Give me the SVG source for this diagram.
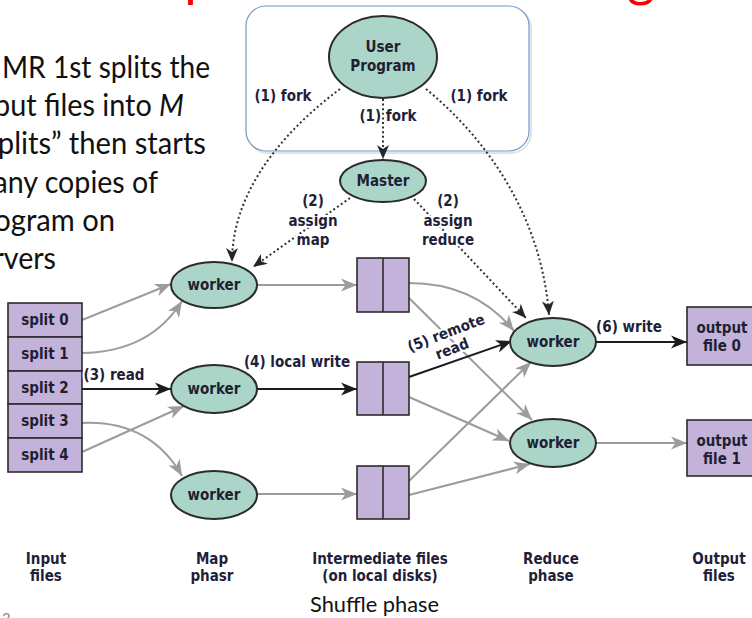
<svg xmlns="http://www.w3.org/2000/svg" width="752" height="618" viewBox="0 0 752 618">
  <style>
    .node { fill: #abd5c8; stroke: #2b2b2b; stroke-width: 2; }
    .file { fill: #c3b2d9; stroke: #2b2b2b; stroke-width: 1.6; }
    .nt { font-family: "DejaVu Sans Condensed", "DejaVu Sans", sans-serif; font-stretch: condensed; font-weight: bold; font-size: 15px; fill: #1f1f33; text-anchor: middle; }
    .lbl { font-family: "DejaVu Sans Condensed", "DejaVu Sans", sans-serif; font-stretch: condensed; font-weight: bold; font-size: 15px; fill: #1f1f3a; text-anchor: middle; stroke: #ffffff; stroke-width: 4; stroke-linejoin: round; paint-order: stroke; }
    .phase { font-family: "DejaVu Sans Condensed", "DejaVu Sans", sans-serif; font-stretch: condensed; font-weight: bold; font-size: 15px; fill: #1f1f3a; text-anchor: middle; }
    .body { font-family: Lato, "Open Sans", sans-serif; font-size: 30px; fill: #111111; }
    .dot { fill: none; stroke: #333333; stroke-width: 2; stroke-dasharray: 2 2.6; }
    .gray { fill: none; stroke: #9c9c9c; stroke-width: 2; }
    .blk { fill: none; stroke: #1c1c1c; stroke-width: 2; }
  </style>
  <defs>
    <marker id="ahBlack" markerUnits="userSpaceOnUse" markerWidth="17" markerHeight="14" refX="16" refY="7" orient="auto">
      <path d="M0,0.5 L16,7 L0,13.5 L4.5,7 Z" fill="#1c1c1c"/>
    </marker>
    <marker id="ahGray" markerUnits="userSpaceOnUse" markerWidth="17" markerHeight="14" refX="16" refY="7" orient="auto">
      <path d="M0,0.5 L16,7 L0,13.5 L4.5,7 Z" fill="#9c9c9c"/>
    </marker>
    <marker id="ahDot" markerUnits="userSpaceOnUse" markerWidth="15" markerHeight="13" refX="14" refY="6.5" orient="auto">
      <path d="M0,0.5 L14,6.5 L0,12.5 L4,6.5 Z" fill="#262626"/>
    </marker>
    <!-- the slide title sits above the frame; only a thin strip reaches into it -->
    <clipPath id="titleStrip">
      <rect x="0" y="0" width="752" height="9"/>
    </clipPath>
  </defs>

  <rect width="752" height="618" fill="#ffffff"/>

  <!-- slide title, only its descenders fall inside the frame -->
  <g id="title" clip-path="url(#titleStrip)">
    <text x="108" y="-4" textLength="547" lengthAdjust="spacingAndGlyphs" font-family="Lato, 'Open Sans', sans-serif" font-size="54" fill="#ff0000">MapReduce Processing</text>
  </g>

  <!-- explanatory paragraph on the left, running off the slide edge -->
  <g id="intro-text" class="body">
    <text x="2" y="78" textLength="208" lengthAdjust="spacingAndGlyphs">MR 1st splits the</text>
    <text x="184" y="116" text-anchor="end" textLength="213" lengthAdjust="spacingAndGlyphs">input files into <tspan font-style="italic">M</tspan></text>
    <text x="206" y="154" text-anchor="end" textLength="231" lengthAdjust="spacingAndGlyphs">“splits” then starts</text>
    <text x="158" y="193" text-anchor="end" textLength="188" lengthAdjust="spacingAndGlyphs">many copies of</text>
    <text x="115" y="231" text-anchor="end" textLength="147" lengthAdjust="spacingAndGlyphs">program on</text>
    <text x="56" y="269" text-anchor="end" textLength="90" lengthAdjust="spacingAndGlyphs">servers</text>
  </g>

  <!-- client machine frame -->
  <g id="client-box">
    <rect x="248" y="8" width="283" height="145" rx="20" fill="none" stroke="#e2e2e2" stroke-width="2"/>
    <rect x="246" y="6" width="283" height="145" rx="20" fill="#ffffff" stroke="#6b97cd" stroke-width="1.2"/>
  </g>

  <!-- connectors -->
  <g id="connectors">
    <!-- (1) fork -->
    <path class="dot" d="M340,89 C285,130 232,190 232,262" marker-end="url(#ahDot)"/>
    <path class="dot" d="M383,99 L383,159" marker-end="url(#ahDot)"/>
    <path class="dot" d="M426,89 C470,125 540,200 549,315" marker-end="url(#ahDot)"/>
    <!-- (2) assign -->
    <path class="dot" d="M350,198 L253,267" marker-end="url(#ahDot)"/>
    <path class="dot" d="M414,199 L526,318" marker-end="url(#ahDot)"/>
    <!-- input splits to map workers -->
    <path class="gray" d="M82,320 L171,284" marker-end="url(#ahGray)"/>
    <path class="gray" d="M82,353 Q150,352 182,301" marker-end="url(#ahGray)"/>
    <path class="blk" d="M80,389 L171,389" marker-end="url(#ahBlack)"/>
    <path class="gray" d="M82,423 Q150,420 182,476" marker-end="url(#ahGray)"/>
    <path class="gray" d="M82,452 L184,406" marker-end="url(#ahGray)"/>
    <!-- map workers to intermediate files -->
    <path class="gray" d="M257,285 L357,285" marker-end="url(#ahGray)"/>
    <path class="blk" d="M257,389 L357,389" marker-end="url(#ahBlack)"/>
    <path class="gray" d="M257,494 L357,494" marker-end="url(#ahGray)"/>
    <!-- intermediate files to reduce workers -->
    <path class="gray" d="M409,283 Q475,283 514,331" marker-end="url(#ahGray)"/>
    <path class="gray" d="M409,298 L532,420" marker-end="url(#ahGray)"/>
    <path class="blk" d="M409,377 L512,341" marker-end="url(#ahBlack)"/>
    <path class="gray" d="M409,397 L509,441" marker-end="url(#ahGray)"/>
    <path class="gray" d="M409,481 L531,362" marker-end="url(#ahGray)"/>
    <path class="gray" d="M409,495 L530,464" marker-end="url(#ahGray)"/>
    <!-- reduce workers to output files -->
    <path class="blk" d="M596,342 L687,342" marker-end="url(#ahBlack)"/>
    <path class="gray" d="M596,443 L687,443" marker-end="url(#ahGray)"/>
  </g>

  <!-- nodes -->
  <g id="user-program">
    <ellipse class="node" cx="383" cy="57" rx="54" ry="41"/>
    <text class="nt" x="383" y="52">User</text>
    <text class="nt" x="383" y="71">Program</text>
  </g>
  <g id="master">
    <ellipse class="node" cx="383" cy="181" rx="43" ry="21"/>
    <text class="nt" x="383" y="186">Master</text>
  </g>

  <g id="input-splits">
    <rect class="file" x="8" y="303" width="74" height="34"/>
    <rect class="file" x="8" y="337" width="74" height="34"/>
    <rect class="file" x="8" y="371" width="74" height="33"/>
    <rect class="file" x="8" y="404" width="74" height="34"/>
    <rect class="file" x="8" y="438" width="74" height="34"/>
    <text class="nt" x="45" y="325">split 0</text>
    <text class="nt" x="45" y="359">split 1</text>
    <text class="nt" x="45" y="393">split 2</text>
    <text class="nt" x="45" y="426">split 3</text>
    <text class="nt" x="45" y="460">split 4</text>
  </g>

  <g id="map-worker-1">
    <ellipse class="node" cx="214" cy="285" rx="43" ry="23"/>
    <text class="nt" x="214" y="290">worker</text>
  </g>
  <g id="map-worker-2">
    <ellipse class="node" cx="214" cy="389" rx="43" ry="24"/>
    <text class="nt" x="214" y="394">worker</text>
  </g>
  <g id="map-worker-3">
    <ellipse class="node" cx="214" cy="495" rx="43" ry="24"/>
    <text class="nt" x="214" y="500">worker</text>
  </g>

  <g id="intermediate-1">
    <rect class="file" x="357" y="258" width="52" height="54"/>
    <line x1="383" y1="258" x2="383" y2="312" stroke="#2b2b2b" stroke-width="1.6"/>
  </g>
  <g id="intermediate-2">
    <rect class="file" x="357" y="362" width="52" height="53"/>
    <line x1="383" y1="362" x2="383" y2="415" stroke="#2b2b2b" stroke-width="1.6"/>
  </g>
  <g id="intermediate-3">
    <rect class="file" x="357" y="466" width="52" height="53"/>
    <line x1="383" y1="466" x2="383" y2="519" stroke="#2b2b2b" stroke-width="1.6"/>
  </g>

  <g id="reduce-worker-1">
    <ellipse class="node" cx="553" cy="342" rx="43" ry="24"/>
    <text class="nt" x="553" y="347">worker</text>
  </g>
  <g id="reduce-worker-2">
    <ellipse class="node" cx="553" cy="443" rx="43" ry="24"/>
    <text class="nt" x="553" y="448">worker</text>
  </g>

  <g id="output-file-0">
    <rect class="file" x="687" y="307" width="72" height="58"/>
    <text class="nt" x="722" y="333">output</text>
    <text class="nt" x="722" y="351">file 0</text>
  </g>
  <g id="output-file-1">
    <rect class="file" x="687" y="420" width="72" height="56"/>
    <text class="nt" x="722" y="446">output</text>
    <text class="nt" x="722" y="464">file 1</text>
  </g>

  <!-- connector labels -->
  <g id="labels">
    <text class="lbl" x="283" y="101">(1) fork</text>
    <text class="lbl" x="479" y="101">(1) fork</text>
    <text class="lbl" x="388" y="121">(1) fork</text>
    <text class="lbl" x="313" y="206">(2)</text>
    <text class="lbl" x="313" y="226">assign</text>
    <text class="lbl" x="313" y="245">map</text>
    <text class="lbl" x="448" y="206">(2)</text>
    <text class="lbl" x="448" y="226">assign</text>
    <text class="lbl" x="448" y="245">reduce</text>
    <text class="lbl" x="114" y="380">(3) read</text>
    <text class="lbl" x="297" y="367">(4) local write</text>
    <g transform="translate(446,333) rotate(-21)">
      <text class="lbl" x="0" y="5">(5) remote</text>
      <text class="lbl" x="0" y="22">read</text>
    </g>
    <text class="lbl" x="629" y="332">(6) write</text>
  </g>

  <!-- phase captions -->
  <g id="phase-labels" class="phase">
    <text x="46" y="564">Input</text>
    <text x="46" y="581">files</text>
    <text x="212" y="564">Map</text>
    <text x="212" y="581">phasr</text>
    <text x="380" y="564">Intermediate files</text>
    <text x="380" y="581">(on local disks)</text>
    <text x="551" y="564">Reduce</text>
    <text x="551" y="581">phase</text>
    <text x="719" y="564">Output</text>
    <text x="719" y="581">files</text>
  </g>
  <text id="shuffle-caption" x="310" y="612" textLength="129" lengthAdjust="spacingAndGlyphs" font-family="Lato, 'Open Sans', sans-serif" font-size="21" fill="#111111">Shuffle phase</text>
  <text id="slide-number" x="2" y="624" font-family="Lato, 'Open Sans', sans-serif" font-size="15" fill="#8a8a8a">3</text>
</svg>
